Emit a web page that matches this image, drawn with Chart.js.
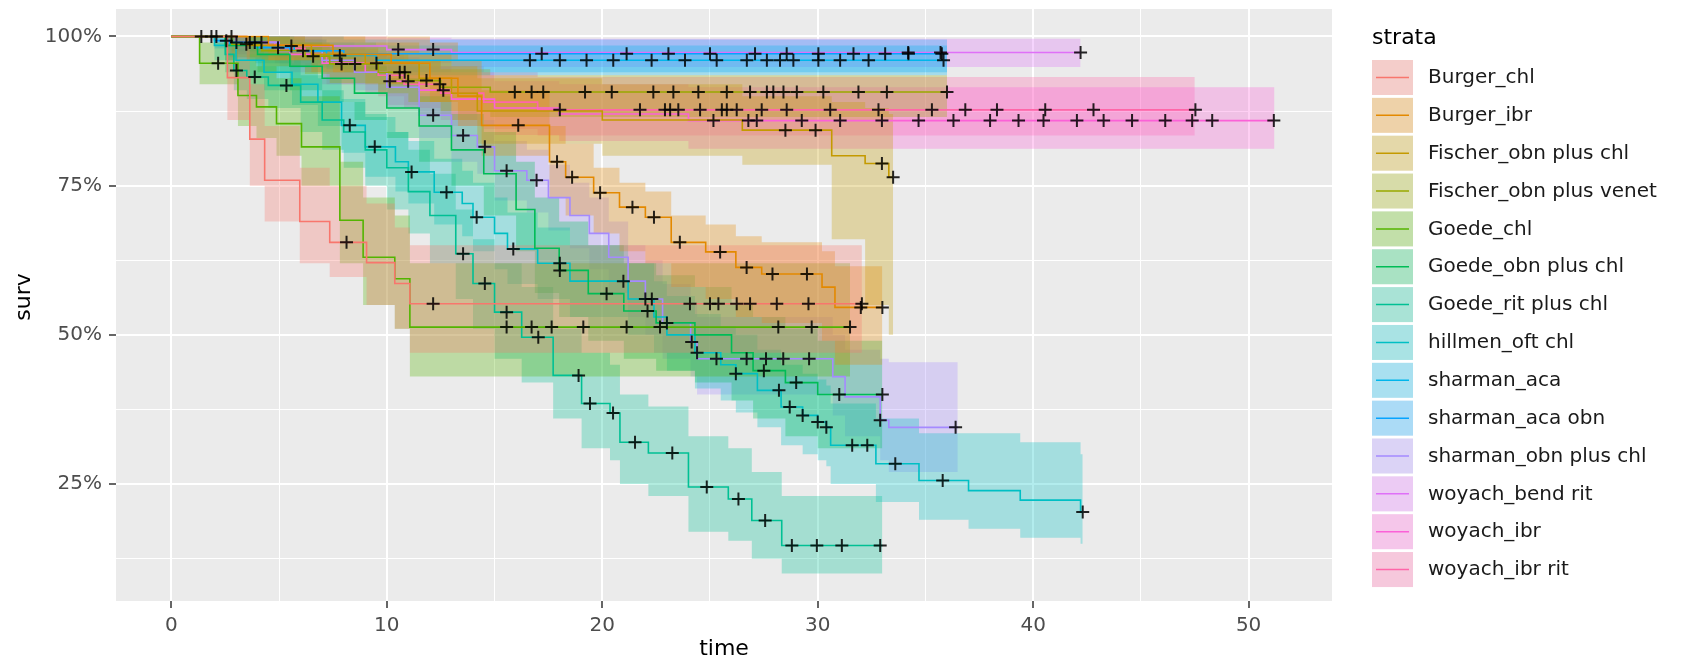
<!DOCTYPE html>
<html>
<head>
<meta charset="utf-8">
<script src="https://cdn.jsdelivr.net/npm/chart.js@4.4.1/dist/chart.umd.min.js"></script>
<style>
  html, body { margin: 0; padding: 0; background: #fff; }
  #wrap { width: 1682px; height: 665px; }
</style>
</head>
<body>
<div id="wrap"><canvas id="km" width="1682" height="665"></canvas></div>
<script>
// strata and their colours (ggplot hue palette, 14 levels)
const strata = ['Burger_chl', 'Burger_ibr', 'Fischer_obn plus chl', 'Fischer_obn plus venet', 'Goede_chl',
  'Goede_obn plus chl', 'Goede_rit plus chl', 'hillmen_oft chl', 'sharman_aca', 'sharman_aca obn',
  'sharman_obn plus chl', 'woyach_bend rit', 'woyach_ibr', 'woyach_ibr rit'];
const colors = ['#F8766D', '#E38900', '#C49A00', '#99A800', '#53B400', '#00BC56', '#00C094',
  '#00BFC4', '#00B6EB', '#06A4FF', '#A58AFF', '#DF70F8', '#FB61D7', '#FF66A8'];

// step times (months) where survival drops, one list per stratum
const stepT = [
  [2.6, 3.64, 4.33, 5.96, 7.35, 9.06, 10.37, 11.07],
  [4.5, 7.5, 10.2, 12.0, 13.3, 14.4, 17.55, 18.3, 19.6, 20.8, 22.0, 23.2, 24.8, 26.2, 27.4, 30.2, 30.8],
  [3.5, 6.5, 9.0, 11.5, 13.0, 14.2, 20.0, 26.5, 30.65, 32.2, 33.3],
  [2.8, 4.2, 6.2, 7.35, 9.6, 11.0, 12.5, 14.8],
  [1.31, 3.09, 3.95, 4.88, 6.04, 7.82, 8.9, 10.37, 11.07],
  [2.5, 4.0, 5.5, 7.0, 8.5, 10.0, 11.5, 13.0, 14.5, 16.0, 16.87, 18.0, 19.35, 21.0, 22.5, 24.3, 26.0, 27.0, 28.5, 30.0],
  [2.5, 2.9, 3.5, 4.5, 6.0, 7.0, 8.0, 9.0, 10.0, 11.0, 12.0, 13.2, 14.0, 15.0, 16.26, 17.72, 19.04, 20.36, 20.82, 22.14, 24.0, 25.85, 26.94, 28.33],
  [2.0, 3.0, 4.3, 5.6, 6.8, 7.9, 9.0, 10.4, 11.0, 12.2, 13.5, 14.0, 15.0, 15.6, 17.0, 18.5, 21.2, 22.4, 23.0, 24.3, 25.5, 26.2, 27.2, 28.3, 29.3, 30.0, 30.4, 30.6, 32.7, 34.7, 37.0, 39.4, 42.2],
  [2.8, 4.1, 5.7, 7.2, 9.5],
  [2.0, 2.7, 3.9, 5.5, 8.0],
  [3.0, 5.0, 7.0, 8.5, 10.0, 11.5, 13.0, 14.2, 15.0, 16.5, 17.5, 18.5, 19.4, 20.3, 21.2, 22.0, 22.8, 24.1, 24.4, 30.7, 31.27, 32.9, 33.3],
  [3.0, 5.0, 10.0, 13.0],
  [3.5, 5.5, 7.0, 9.0, 10.0, 11.5, 13.0, 15.0, 18.0, 24.0],
  [3.0, 4.8, 6.2, 7.2, 9.6, 10.8, 12.5, 14.5, 17.0]
];

// survival after each step
const survS = [
  [0.931, 0.828, 0.759, 0.690, 0.655, 0.621, 0.586, 0.552],
  [0.985, 0.97, 0.955, 0.93, 0.90, 0.851, 0.79, 0.764, 0.738, 0.714, 0.697, 0.655, 0.639, 0.613, 0.602, 0.58, 0.546],
  [0.985, 0.97, 0.955, 0.93, 0.905, 0.875, 0.86, 0.843, 0.80, 0.787, 0.764],
  [0.987, 0.976, 0.967, 0.954, 0.94, 0.926, 0.915, 0.907],
  [0.955, 0.901, 0.882, 0.854, 0.815, 0.692, 0.630, 0.594, 0.513],
  [0.985, 0.97, 0.95, 0.93, 0.905, 0.88, 0.85, 0.81, 0.77, 0.71, 0.645, 0.608, 0.569, 0.54, 0.52, 0.50, 0.47, 0.44, 0.42, 0.40],
  [0.97, 0.943, 0.932, 0.918, 0.89, 0.86, 0.84, 0.81, 0.78, 0.74, 0.70, 0.636, 0.586, 0.538, 0.496, 0.432, 0.385, 0.369, 0.32, 0.302, 0.245, 0.225, 0.189, 0.147],
  [0.985, 0.96, 0.94, 0.92, 0.89, 0.851, 0.815, 0.79, 0.773, 0.739, 0.72, 0.697, 0.67, 0.644, 0.62, 0.59, 0.56, 0.53, 0.50, 0.47, 0.45, 0.435, 0.407, 0.379, 0.365, 0.354, 0.345, 0.315, 0.284, 0.256, 0.239, 0.223, 0.203],
  [0.99, 0.984, 0.976, 0.968, 0.96],
  [0.993, 0.987, 0.981, 0.976, 0.971],
  [0.99, 0.975, 0.96, 0.94, 0.915, 0.868, 0.834, 0.815, 0.775, 0.759, 0.73, 0.70, 0.67, 0.63, 0.59, 0.56, 0.52, 0.488, 0.46, 0.43, 0.396, 0.357, 0.345],
  [0.99, 0.984, 0.978, 0.973],
  [0.985, 0.97, 0.955, 0.94, 0.925, 0.91, 0.895, 0.88, 0.87, 0.859],
  [0.99, 0.98, 0.97, 0.955, 0.935, 0.92, 0.905, 0.89, 0.877]
];

// lower confidence limit after each step
const lowCI = [
  [0.86, 0.75, 0.69, 0.62, 0.597, 0.55, 0.51, 0.47],
  [0.96, 0.94, 0.92, 0.89, 0.85, 0.80, 0.73, 0.70, 0.67, 0.64, 0.62, 0.58, 0.56, 0.53, 0.52, 0.49, 0.45],
  [0.96, 0.94, 0.92, 0.89, 0.86, 0.82, 0.80, 0.785, 0.66, 0.55, 0.50],
  [0.965, 0.95, 0.937, 0.922, 0.905, 0.89, 0.875, 0.865],
  [0.92, 0.85, 0.83, 0.80, 0.75, 0.62, 0.55, 0.51, 0.43],
  [0.96, 0.94, 0.91, 0.89, 0.86, 0.83, 0.79, 0.75, 0.70, 0.64, 0.57, 0.53, 0.49, 0.46, 0.44, 0.42, 0.39, 0.36, 0.33, 0.31],
  [0.94, 0.91, 0.895, 0.88, 0.84, 0.81, 0.78, 0.75, 0.71, 0.67, 0.62, 0.56, 0.51, 0.46, 0.42, 0.36, 0.31, 0.29, 0.25, 0.23, 0.17, 0.155, 0.125, 0.10],
  [0.96, 0.93, 0.91, 0.885, 0.85, 0.805, 0.765, 0.74, 0.72, 0.685, 0.665, 0.64, 0.61, 0.585, 0.56, 0.53, 0.50, 0.47, 0.44, 0.41, 0.39, 0.37, 0.345, 0.315, 0.30, 0.29, 0.28, 0.25, 0.22, 0.19, 0.175, 0.16, 0.15],
  [0.975, 0.965, 0.955, 0.945, 0.935],
  [0.98, 0.965, 0.955, 0.948, 0.94],
  [0.97, 0.95, 0.93, 0.91, 0.88, 0.83, 0.79, 0.77, 0.725, 0.705, 0.675, 0.645, 0.61, 0.57, 0.53, 0.50, 0.46, 0.43, 0.40, 0.365, 0.33, 0.29, 0.27],
  [0.975, 0.965, 0.955, 0.949],
  [0.96, 0.94, 0.92, 0.905, 0.885, 0.87, 0.85, 0.835, 0.825, 0.812],
  [0.97, 0.955, 0.94, 0.92, 0.90, 0.88, 0.86, 0.845, 0.834]
];

// upper confidence limit after each step
const uppCI = [
  [1.0, 0.92, 0.85, 0.78, 0.75, 0.72, 0.68, 0.65],
  [1.0, 1.0, 1.0, 0.99, 0.96, 0.91, 0.85, 0.82, 0.78, 0.755, 0.74, 0.70, 0.685, 0.665, 0.655, 0.64, 0.615],
  [1.0, 1.0, 0.99, 0.97, 0.95, 0.93, 0.92, 0.90, 0.89, 0.88, 0.87],
  [1.0, 1.0, 0.99, 0.98, 0.97, 0.96, 0.945, 0.935],
  [0.99, 0.96, 0.95, 0.93, 0.90, 0.79, 0.73, 0.70, 0.62],
  [1.0, 1.0, 0.99, 0.97, 0.95, 0.93, 0.90, 0.87, 0.84, 0.79, 0.73, 0.69, 0.65, 0.62, 0.60, 0.58, 0.55, 0.53, 0.51, 0.49],
  [1.0, 0.98, 0.97, 0.96, 0.935, 0.91, 0.89, 0.87, 0.84, 0.81, 0.77, 0.71, 0.66, 0.62, 0.58, 0.51, 0.47, 0.45, 0.40, 0.38, 0.33, 0.31, 0.27, 0.23],
  [1.0, 0.99, 0.97, 0.955, 0.93, 0.895, 0.865, 0.84, 0.825, 0.795, 0.775, 0.755, 0.73, 0.705, 0.68, 0.65, 0.62, 0.59, 0.565, 0.535, 0.515, 0.50, 0.475, 0.45, 0.435, 0.425, 0.415, 0.385, 0.36, 0.335, 0.335, 0.32, 0.30],
  [1.0, 1.0, 0.995, 0.99, 0.985],
  [1.0, 1.0, 1.0, 1.0, 0.995],
  [1.0, 1.0, 0.99, 0.97, 0.95, 0.905, 0.875, 0.86, 0.825, 0.81, 0.785, 0.755, 0.73, 0.69, 0.65, 0.625, 0.585, 0.555, 0.53, 0.50, 0.475, 0.46, 0.454],
  [1.0, 1.0, 0.998, 0.996],
  [1.0, 0.995, 0.985, 0.975, 0.965, 0.95, 0.94, 0.925, 0.92, 0.915],
  [1.0, 1.0, 0.995, 0.985, 0.97, 0.96, 0.95, 0.94, 0.932]
];

// last follow-up time of each stratum
const lastT = [32.05, 33.0, 33.5, 36.0, 31.5, 33.0, 33.0, 42.3, 36.0, 36.0, 36.5, 42.2, 51.2, 47.5];

// censoring times ("+" marks)
const censT = [
  [8.13, 12.15, 24.07, 25.0, 25.39, 26.24, 26.86, 28.1, 29.57, 32.05],
  [16.1, 17.9, 18.6, 19.9, 21.4, 22.4, 23.6, 25.47, 26.7, 27.9, 29.5, 32.0, 33.0],
  [28.5, 29.9, 32.98, 33.5],
  [2.79, 6.58, 7.9, 8.52, 10.6, 10.83, 11.84, 15.94, 16.72, 17.26, 19.2, 20.44, 22.37, 23.3, 24.46, 25.78, 26.86, 27.64, 27.94, 28.41, 29.03, 30.26, 31.89, 33.21, 36.0],
  [2.17, 15.56, 16.72, 17.65, 19.12, 21.13, 22.68, 28.17, 29.72, 31.5],
  [18.03, 20.2, 22.1, 23.0, 27.5, 29.0, 31.0, 33.0],
  [3.02, 3.87, 5.34, 13.54, 14.55, 15.56, 17.03, 18.9, 19.43, 20.5, 21.52, 23.25, 24.85, 26.32, 27.56, 28.8, 29.96, 31.12, 32.9],
  [8.28, 9.44, 11.15, 12.77, 14.17, 15.87, 18.03, 20.98, 22.3, 24.4, 26.2, 28.2, 28.7, 29.3, 30.0, 30.4, 31.6, 32.3, 33.6, 35.8, 42.3],
  [2.09, 3.64, 7.82, 16.64, 18.03, 19.27, 20.51, 22.29, 23.84, 25.31, 26.71, 27.64, 28.25, 28.87, 30.03, 31.04, 32.36, 35.84],
  [1.39, 1.86, 2.55, 3.48, 4.95, 6.11, 17.19, 21.13, 23.07, 25.0, 27.09, 28.56, 30.03, 31.66, 33.13, 34.21, 35.76],
  [12.15, 13.54, 14.55, 15.56, 16.95, 22.0, 24.15, 25.3, 26.7, 27.6, 28.4, 29.6, 32.9, 36.4],
  [3.87, 5.57, 10.53, 12.15, 34.2, 35.7, 42.2],
  [10.14, 10.99, 12.62, 25.16, 26.78, 27.17, 29.26, 31.04, 32.98, 34.68, 36.3, 38.0, 39.32, 40.48, 42.03, 43.27, 44.59, 46.13, 47.38, 48.31, 51.17],
  [3.02, 4.18, 9.52, 12.46, 18.03, 21.75, 22.91, 23.15, 23.53, 24.54, 25.55, 25.78, 26.24, 27.4, 28.56, 30.58, 32.82, 35.3, 36.85, 38.32, 40.56, 42.8, 47.53]
];

// axis ticks
const xTicks = [0, 5, 10, 15, 20, 25, 30, 35, 40, 45, 50];
const yTicks = [0.125, 0.25, 0.375, 0.5, 0.625, 0.75, 0.875, 1.0];

const FONT = '"DejaVu Sans", "Liberation Sans", sans-serif';

// turn a list of drops into the corner points of a step curve
function stepPts(times, vals, end) {
  const pts = [{ x: 0, y: 1 }];
  let prev = 1;
  for (let i = 0; i < times.length; i++) {
    pts.push({ x: times[i], y: prev });
    pts.push({ x: times[i], y: vals[i] });
    prev = vals[i];
  }
  pts.push({ x: end, y: prev });
  return pts;
}

// survival level at time t
function survAt(times, vals, t) {
  let s = 1;
  for (let i = 0; i < times.length; i++) {
    if (times[i] <= t) s = vals[i];
  }
  return s;
}

function withAlpha(hex, a) {
  const n = parseInt(hex.slice(1), 16);
  return `rgba(${(n >> 16) & 255}, ${(n >> 8) & 255}, ${n & 255}, ${a})`;
}

const datasets = [];
// ribbons first (upper limit fills down to the lower limit that follows it)
strata.forEach((name, i) => {
  datasets.push({
    label: name + ' upper',
    data: stepPts(stepT[i], uppCI[i], lastT[i]),
    fill: '+1',
    backgroundColor: withAlpha(colors[i], 0.3),
    borderWidth: 0,
    pointRadius: 0,
    order: 3
  });
  datasets.push({
    label: name + ' lower',
    data: stepPts(stepT[i], lowCI[i], lastT[i]),
    fill: false,
    borderWidth: 0,
    pointRadius: 0,
    order: 3
  });
});
// survival curves
strata.forEach((name, i) => {
  datasets.push({
    label: name,
    data: stepPts(stepT[i], survS[i], lastT[i]),
    fill: false,
    borderColor: colors[i],
    borderWidth: 1.6,
    pointRadius: 0,
    order: 2
  });
});
// censor marks
strata.forEach((name, i) => {
  datasets.push({
    label: name + ' censor',
    data: censT[i].map(t => ({ x: t, y: survAt(stepT[i], survS[i], t) })),
    showLine: false,
    pointStyle: 'cross',
    pointRadius: 6.5,
    pointBorderWidth: 2,
    pointBorderColor: 'rgba(0,0,0,0.85)',
    pointBackgroundColor: 'rgba(0,0,0,0)',
    order: 1
  });
});

const panelBg = {
  id: 'panelBg',
  beforeDraw(chart) {
    const { ctx, chartArea: a } = chart;
    ctx.save();
    ctx.fillStyle = '#EBEBEB';
    ctx.fillRect(a.left, a.top, a.right - a.left, a.bottom - a.top);
    ctx.restore();
  }
};

// axis titles and the strata legend
const annotations = {
  id: 'annotations',
  afterDraw(chart) {
    const { ctx, chartArea: a } = chart;
    ctx.save();
    ctx.fillStyle = '#000';
    ctx.textAlign = 'center';
    ctx.textBaseline = 'middle';
    ctx.font = '22px ' + FONT;
    ctx.fillText('time', (a.left + a.right) / 2, 649);
    ctx.save();
    ctx.translate(24, 297);
    ctx.rotate(-Math.PI / 2);
    ctx.fillText('surv', 0, 0);
    ctx.restore();

    ctx.textAlign = 'left';
    ctx.fillText('strata', 1372, 38);
    ctx.font = '20px ' + FONT;
    strata.forEach((name, i) => {
      const top = 60 + i * 37.85;
      ctx.fillStyle = '#F2F2F2';
      ctx.fillRect(1372, top, 41, 35);
      ctx.fillStyle = withAlpha(colors[i], 0.3);
      ctx.fillRect(1372, top, 41, 35);
      ctx.strokeStyle = colors[i];
      ctx.lineWidth = 1.5;
      ctx.beginPath();
      ctx.moveTo(1376, top + 17.5);
      ctx.lineTo(1409, top + 17.5);
      ctx.stroke();
      ctx.fillStyle = '#1a1a1a';
      ctx.fillText(name, 1428, top + 18);
    });
    ctx.restore();
  }
};

new Chart(document.getElementById('km'), {
  type: 'line',
  data: { datasets },
  options: {
    responsive: false,
    animation: false,
    devicePixelRatio: 1,
    layout: { padding: { left: 0, right: 350, top: 9, bottom: 0 } },
    plugins: {
      legend: { display: false },
      tooltip: { enabled: false },
      filler: { propagate: false }
    },
    scales: {
      x: {
        type: 'linear',
        min: -2.57,
        max: 53.87,
        afterFit(s) { s.height = 64; s.paddingLeft = 0; s.paddingRight = 0; },
        afterBuildTicks(s) { s.ticks = xTicks.map(v => ({ value: v })); },
        border: { display: false },
        grid: {
          color: '#FFFFFF',
          lineWidth: c => (c.tick && c.tick.value % 10 === 0 ? 2 : 1),
          tickLength: 7,
          tickWidth: 1.5,
          tickColor: c => (c.tick && c.tick.value % 10 === 0 ? '#333333' : 'rgba(0,0,0,0)')
        },
        ticks: {
          autoSkip: false,
          maxRotation: 0,
          padding: 6,
          color: '#4D4D4D',
          font: { family: FONT, size: 20 },
          callback: v => (v % 10 === 0 ? String(v) : '')
        }
      },
      y: {
        type: 'linear',
        min: 0.054,
        max: 1.046,
        afterFit(s) { s.width = 116; s.paddingTop = 0; s.paddingBottom = 0; },
        afterBuildTicks(s) { s.ticks = yTicks.map(v => ({ value: v })); },
        border: { display: false },
        grid: {
          color: '#FFFFFF',
          lineWidth: c => (c.tick && Math.round(c.tick.value * 1000) % 250 === 0 ? 2 : 1),
          tickLength: 7,
          tickWidth: 1.5,
          tickColor: c => (c.tick && Math.round(c.tick.value * 1000) % 250 === 0 ? '#333333' : 'rgba(0,0,0,0)')
        },
        ticks: {
          padding: 7,
          color: '#4D4D4D',
          font: { family: FONT, size: 20 },
          callback: v => (Math.round(v * 1000) % 250 === 0 ? Math.round(v * 100) + '%' : '')
        }
      }
    }
  },
  plugins: [panelBg, annotations]
});
</script>
</body>
</html>
